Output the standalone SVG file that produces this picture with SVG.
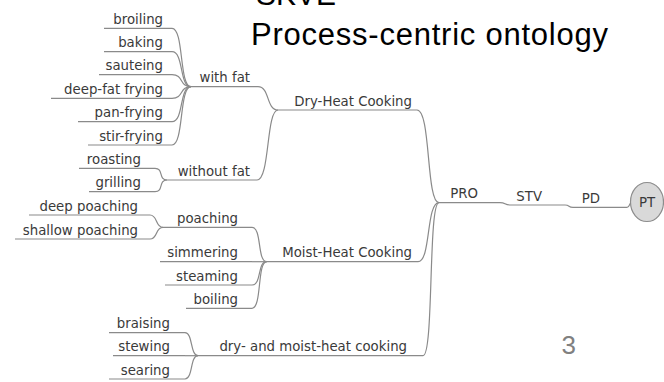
<svg xmlns="http://www.w3.org/2000/svg" width="664" height="382" viewBox="0 0 664 382">
<style>
.t{font-family:"DejaVu Sans",sans-serif;font-size:13.3px;fill:#3a3a3a;text-anchor:end}
.u{stroke:#8a8a8a;stroke-width:1.2;fill:none}
.e{stroke:#8a8a8a;stroke-width:1.2;fill:none}
.title{font-family:"Liberation Sans",Arial,sans-serif;font-size:31px;fill:#000}
</style>
<rect width="664" height="382" fill="#fff"/>
<text class="title" x="256" y="5" textLength="80" lengthAdjust="spacingAndGlyphs">SKVE</text>
<text class="title" x="251" y="45" textLength="357" lengthAdjust="spacing">Process-centric ontology</text>
<text x="576" y="354" font-family="Liberation Sans,Arial,sans-serif" font-size="26" fill="#808080" text-anchor="end">3</text>

<g id="connectors">
<path class="e" d="M172,28.3 C184,28.3 179,86.7 191,86.7"/>
<path class="e" d="M172,51.7 C184,51.7 179,86.7 191,86.7"/>
<path class="e" d="M172,74.7 C184,74.7 179,86.7 191,86.7"/>
<path class="e" d="M172,98.3 C184,98.3 179,86.7 191,86.7"/>
<path class="e" d="M172,121.7 C184,121.7 179,86.7 191,86.7"/>
<path class="e" d="M172,145 C184,145 179,86.7 191,86.7"/>
<path class="e" d="M155,168.3 C164,168.3 158,180 167,180"/>
<path class="e" d="M155,191.7 C164,191.7 158,180 167,180"/>
<path class="e" d="M258,86.7 C270,86.7 266,110 278,110"/>
<path class="e" d="M257,180 C270,180 266,110 278,110"/>
<path class="e" d="M150,215 C158,215 155,227.3 163,227.3"/>
<path class="e" d="M150,239 C158,239 155,227.3 163,227.3"/>
<path class="e" d="M252,227.3 C262,227.3 257,261.7 266.7,261.7"/>
<path class="e" d="M252,261.7 L266.7,261.7"/>
<path class="e" d="M252,285 C262,285 257,261.7 266.7,261.7"/>
<path class="e" d="M252,308.3 C262,308.3 257,261.7 266.7,261.7"/>
<path class="e" d="M185,332.7 C193,332.7 190,355.7 198,355.7"/>
<path class="e" d="M185,355.7 L198,355.7"/>
<path class="e" d="M185,379 C193,379 190,355.7 198,355.7"/>
<path class="e" d="M417,110 C431,110 426,202.7 439,202.7"/>
<path class="e" d="M418,261.7 C431,261.7 426,202.7 439,202.7"/>
<path class="e" d="M423,355.7 C434,355.7 428,202.7 439,202.7"/>
<path class="e" d="M500,202.7 C506,202.7 504,205 510,205"/>
<path class="e" d="M565,205 C570,205 568,207.3 573,207.3"/>
<path class="e" d="M627,207.3 C630,207.3 629,203 631,203"/>
</g>

<g id="PT"><ellipse cx="647" cy="202" rx="16.5" ry="19.5" fill="#d9d9d9" stroke="#8c8c8c" stroke-width="1.2"/><text class="t" x="647" y="207" style="text-anchor:middle">PT</text></g>
<g id="PD"><line class="u" x1="573" y1="207.3" x2="627" y2="207.3"/><text class="t" x="600" y="202.8">PD</text></g>
<g id="STV"><line class="u" x1="510" y1="205" x2="565" y2="205"/><text class="t" x="542" y="200.5">STV</text></g>
<g id="PRO"><line class="u" x1="439" y1="202.7" x2="500" y2="202.7"/><text class="t" x="478" y="198.2">PRO</text></g>

<g id="dry-heat"><line class="u" x1="278" y1="110" x2="417" y2="110"/><text class="t" x="412" y="105.5">Dry-Heat Cooking</text></g>
<g id="moist-heat"><line class="u" x1="266.7" y1="261.7" x2="418" y2="261.7"/><text class="t" x="412" y="257.2">Moist-Heat Cooking</text></g>
<g id="dry-moist"><line class="u" x1="198" y1="355.7" x2="423" y2="355.7"/><text class="t" x="407" y="351.2">dry- and moist-heat cooking</text></g>

<g id="with-fat"><line class="u" x1="191" y1="86.7" x2="258" y2="86.7"/><text class="t" x="250" y="82.2">with fat</text></g>
<g id="without-fat"><line class="u" x1="167" y1="180" x2="257" y2="180"/><text class="t" x="250" y="175.5">without fat</text></g>

<g id="broiling"><line class="u" x1="104" y1="28.3" x2="172" y2="28.3"/><text class="t" x="163" y="23.8">broiling</text></g>
<g id="baking"><line class="u" x1="104" y1="51.7" x2="172" y2="51.7"/><text class="t" x="163" y="47.2">baking</text></g>
<g id="sauteing"><line class="u" x1="99" y1="74.7" x2="172" y2="74.7"/><text class="t" x="163" y="70.2">sauteing</text></g>
<g id="deep-fat-frying"><line class="u" x1="51" y1="98.3" x2="172" y2="98.3"/><text class="t" x="163" y="93.8">deep-fat frying</text></g>
<g id="pan-frying"><line class="u" x1="78" y1="121.7" x2="172" y2="121.7"/><text class="t" x="163" y="117.2">pan-frying</text></g>
<g id="stir-frying"><line class="u" x1="88" y1="145" x2="172" y2="145"/><text class="t" x="163" y="140.5">stir-frying</text></g>
<g id="roasting"><line class="u" x1="79" y1="168.3" x2="155" y2="168.3"/><text class="t" x="141" y="163.8">roasting</text></g>
<g id="grilling"><line class="u" x1="89" y1="191.7" x2="155" y2="191.7"/><text class="t" x="141" y="187.2">grilling</text></g>

<g id="poaching"><line class="u" x1="163" y1="227.3" x2="252" y2="227.3"/><text class="t" x="238" y="222.8">poaching</text></g>
<g id="deep-poaching"><line class="u" x1="29" y1="215" x2="150" y2="215"/><text class="t" x="138" y="210.5">deep poaching</text></g>
<g id="shallow-poaching"><line class="u" x1="15" y1="239" x2="150" y2="239"/><text class="t" x="138" y="234.5">shallow poaching</text></g>
<g id="simmering"><line class="u" x1="160" y1="261.7" x2="252" y2="261.7"/><text class="t" x="238" y="257.2">simmering</text></g>
<g id="steaming"><line class="u" x1="165" y1="285" x2="252" y2="285"/><text class="t" x="238" y="280.5">steaming</text></g>
<g id="boiling"><line class="u" x1="186" y1="308.3" x2="252" y2="308.3"/><text class="t" x="238" y="303.8">boiling</text></g>

<g id="braising"><line class="u" x1="109" y1="332.7" x2="185" y2="332.7"/><text class="t" x="170" y="328.2">braising</text></g>
<g id="stewing"><line class="u" x1="113" y1="355.7" x2="185" y2="355.7"/><text class="t" x="170" y="351.2">stewing</text></g>
<g id="searing"><line class="u" x1="109" y1="379" x2="185" y2="379"/><text class="t" x="170" y="374.5">searing</text></g>
</svg>
